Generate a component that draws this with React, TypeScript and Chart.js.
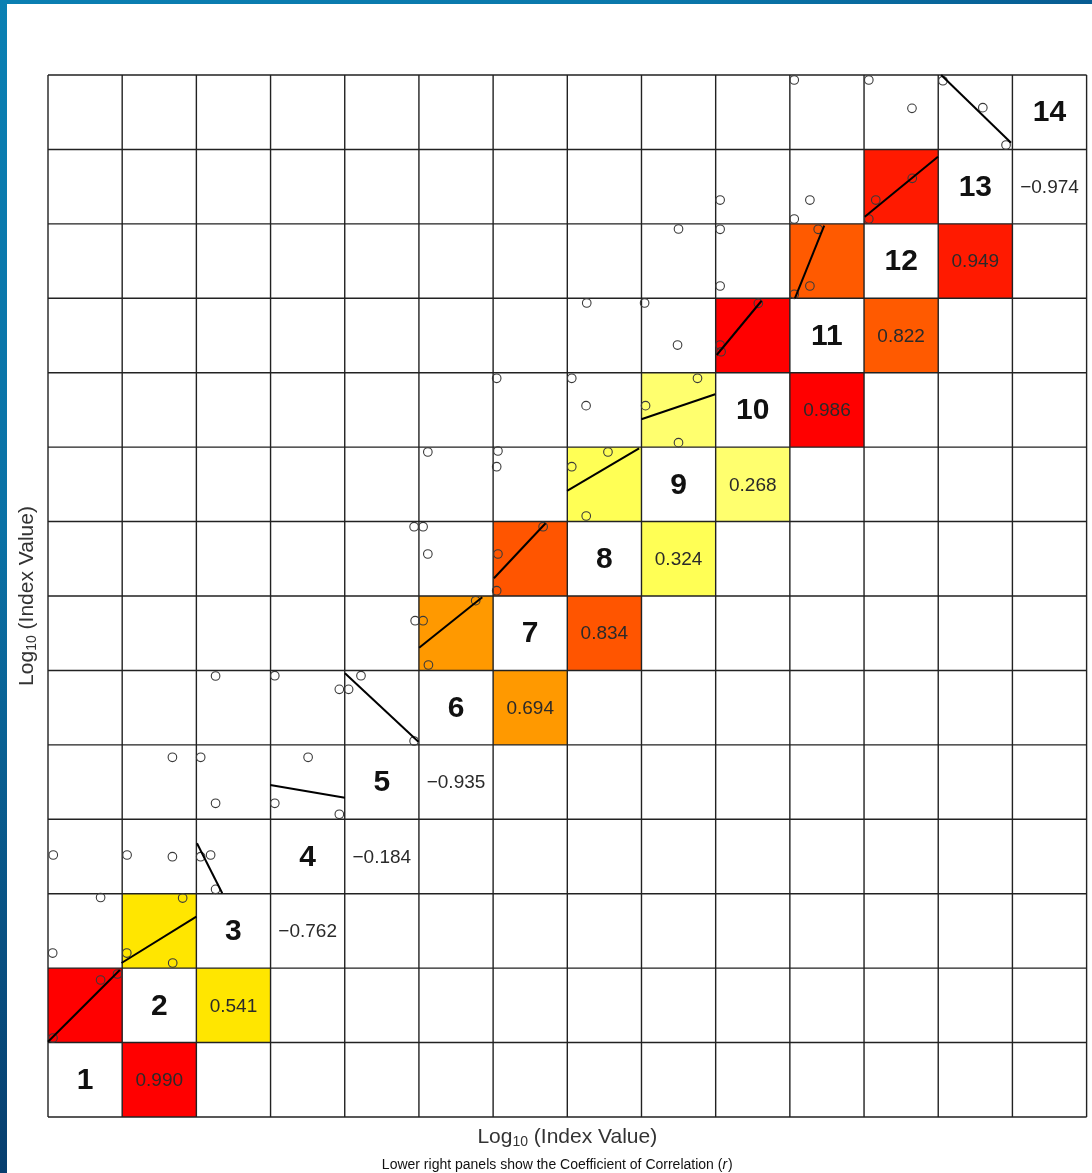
import React, { useEffect, useRef } from 'react';
import { Chart, registerables } from 'chart.js';

Chart.register(...registerables);

// Diagonal panel labels (variables 1..14)
const diagLabels = ['1', '2', '3', '4', '5', '6', '7', '8', '9', '10', '11', '12', '13', '14'];

// Correlation of variable i with variable i+1 (lower-right panels)
const corrValues = [0.990, 0.541, -0.762, -0.184, -0.935, 0.694, 0.834, 0.324, 0.268, 0.986, 0.822, 0.949, -0.974];
const corrColors: (string | null)[] = [
  '#FF0000', '#FFE600', null, null, null, '#FF9900', '#FF5500',
  '#FFFF55', '#FFFF6E', '#FF0000', '#FF5A00', '#FF1A00', null,
];

// Scatter points (panel-grid units: each panel is 1 unit wide / tall)
const pointX = [
  0.709, 0.937, 0.067,
  0.709, 0.063, 1.815, 1.062, 1.681,
  0.071, 1.066, 1.677, 2.058, 2.192, 2.259,
  1.677, 2.058, 2.259, 3.506, 3.057, 3.927,
  2.259, 3.057, 3.927, 4.052, 4.219, 4.935,
  4.949, 5.056, 5.128, 5.765,
  4.935, 5.056, 5.120, 6.674, 6.065, 6.048,
  5.120, 6.065, 6.048, 7.548, 7.060, 7.255,
  6.048, 7.060, 7.253, 8.055, 8.755, 8.499,
  7.262, 8.042, 8.486, 9.575, 9.060, 9.073,
  8.499, 9.060, 9.060, 10.382, 10.270, 10.059,
  9.060, 10.270, 10.059, 11.064, 11.158, 11.650,
  10.059, 11.064, 11.646, 12.063, 12.601, 12.914,
];
const pointY = [
  1.841, 1.921, 1.061,
  2.949, 2.203, 2.942, 2.203, 2.069,
  3.520, 3.520, 3.497, 3.497, 3.520, 3.059,
  4.833, 4.833, 4.215, 4.833, 4.215, 4.067,
  5.925, 5.929, 5.746, 5.746, 5.929, 5.052,
  6.668, 6.668, 6.073, 6.937,
  7.931, 7.931, 7.564, 7.931, 7.564, 7.071,
  8.935, 8.948, 8.737, 8.935, 8.737, 8.075,
  9.925, 9.925, 9.557, 9.557, 9.925, 9.060,
  10.937, 10.937, 10.372, 10.932, 10.372, 10.282,
  11.931, 11.927, 11.165, 11.927, 11.165, 11.053,
  12.320, 12.320, 12.065, 12.065, 12.320, 12.612,
  13.933, 13.933, 13.552, 13.923, 13.561, 13.059,
];

// Regression lines (start / end, panel-grid units)
const lineX1 = [0.000, 0.991, 2.008, 2.995, 4.003, 5.003, 6.011, 6.997, 7.998, 9.014, 10.068, 11.010, 12.040];
const lineY1 = [1.012, 2.069, 3.677, 4.461, 5.961, 6.305, 7.238, 8.411, 9.374, 10.238, 11.000, 12.096, 14.000];
const lineX2 = [0.968, 2.000, 2.349, 4.003, 4.993, 5.854, 6.707, 7.968, 8.993, 9.619, 10.463, 11.996, 12.981];
const lineY2 = [1.975, 2.691, 3.006, 4.290, 5.042, 6.982, 7.977, 8.982, 9.710, 10.967, 11.975, 12.902, 13.090];

const xTitleMain = 'Log';
const xTitleSub = '10';
const xTitleRest = ' (Index Value)';
const subTitle = 'Lower right panels show the Coefficient of Correlation (';
const subTitleVar = 'r';

const FONT = '"Liberation Sans", Arial, Helvetica, sans-serif';
const N = diagLabels.length;

function drawLogTitle(ctx: CanvasRenderingContext2D, cx: number, cy: number) {
  ctx.save();
  ctx.fillStyle = '#333';
  ctx.textBaseline = 'middle';
  ctx.textAlign = 'left';
  const big = `21px ${FONT}`;
  const small = `14px ${FONT}`;
  ctx.font = big;
  const w1 = ctx.measureText(xTitleMain).width;
  const w3 = ctx.measureText(xTitleRest).width;
  ctx.font = small;
  const w2 = ctx.measureText(xTitleSub).width;
  const total = w1 + w2 + w3;
  let x = cx - total / 2;
  ctx.font = big;
  ctx.fillText(xTitleMain, x, cy);
  x += w1;
  ctx.font = small;
  ctx.fillText(xTitleSub, x, cy + 5);
  x += w2;
  ctx.font = big;
  ctx.fillText(xTitleRest, x, cy);
  ctx.restore();
}

const panelPlugin = {
  id: 'panelPlugin',
  beforeDatasetsDraw(chart: any) {
    const { ctx, scales } = chart;
    const xs = scales.x;
    const ys = scales.y;
    ctx.save();
    // coloured panels
    for (let i = 0; i < corrValues.length; i++) {
      const c = corrColors[i];
      if (!c) continue;
      ctx.fillStyle = c;
      // scatter panel (col i, row i+1)
      let x0 = xs.getPixelForValue(i);
      let x1 = xs.getPixelForValue(i + 1);
      let y0 = ys.getPixelForValue(i + 2);
      let y1 = ys.getPixelForValue(i + 1);
      ctx.fillRect(x0, y0, x1 - x0, y1 - y0);
      // correlation panel (col i+1, row i)
      x0 = xs.getPixelForValue(i + 1);
      x1 = xs.getPixelForValue(i + 2);
      y0 = ys.getPixelForValue(i + 1);
      y1 = ys.getPixelForValue(i);
      ctx.fillRect(x0, y0, x1 - x0, y1 - y0);
    }
    // panel borders
    ctx.strokeStyle = '#222';
    ctx.lineWidth = 1.4;
    ctx.beginPath();
    for (let k = 0; k <= N; k++) {
      const px = xs.getPixelForValue(k);
      ctx.moveTo(px, ys.getPixelForValue(0));
      ctx.lineTo(px, ys.getPixelForValue(N));
      const py = ys.getPixelForValue(k);
      ctx.moveTo(xs.getPixelForValue(0), py);
      ctx.lineTo(xs.getPixelForValue(N), py);
    }
    ctx.stroke();
    ctx.restore();
  },
  afterDatasetsDraw(chart: any) {
    const { ctx, scales, chartArea } = chart;
    const xs = scales.x;
    const ys = scales.y;
    ctx.save();
    ctx.textAlign = 'center';
    ctx.textBaseline = 'middle';
    // diagonal labels
    ctx.font = `bold 30px ${FONT}`;
    ctx.fillStyle = '#111';
    for (let i = 0; i < N; i++) {
      ctx.fillText(diagLabels[i], xs.getPixelForValue(i + 0.5), ys.getPixelForValue(i + 0.5) + 1);
    }
    // correlation values
    ctx.font = `19px ${FONT}`;
    ctx.fillStyle = '#2a2a2a';
    for (let i = 0; i < corrValues.length; i++) {
      const v = corrValues[i];
      const s = (v < 0 ? '\u2212' : '') + Math.abs(v).toFixed(3);
      ctx.fillText(s, xs.getPixelForValue(i + 1.5), ys.getPixelForValue(i + 0.5) + 1);
    }
    ctx.restore();

    // axis titles
    const cx = (chartArea.left + chartArea.right) / 2;
    drawLogTitle(ctx, cx, chartArea.bottom + 20);
    ctx.save();
    ctx.translate(chartArea.left - 21, (chartArea.top + chartArea.bottom) / 2);
    ctx.rotate(-Math.PI / 2);
    drawLogTitle(ctx, 0, 0);
    ctx.restore();

    // subtitle
    ctx.save();
    ctx.fillStyle = '#111';
    ctx.textBaseline = 'middle';
    ctx.textAlign = 'left';
    const f1 = `14px ${FONT}`;
    const f2 = `italic 14px ${FONT}`;
    ctx.font = f1;
    const a = ctx.measureText(subTitle).width;
    const c = ctx.measureText(')').width;
    ctx.font = f2;
    const b = ctx.measureText(subTitleVar).width + 1;
    let x = cx - 10 - (a + b + c) / 2;
    const y = chartArea.bottom + 48;
    ctx.font = f1;
    ctx.fillText(subTitle, x, y);
    x += a;
    ctx.font = f2;
    ctx.fillText(subTitleVar, x, y);
    x += b;
    ctx.font = f1;
    ctx.fillText(')', x, y);
    ctx.restore();
  },
};

export default function App() {
  const canvasRef = useRef<HTMLCanvasElement | null>(null);

  useEffect(() => {
    const canvas = canvasRef.current;
    if (!canvas) return;
    const pts = pointX.map((x, i) => ({ x, y: pointY[i] }));
    const lineSets = lineX1.map((x1, i) => ({
      type: 'scatter' as const,
      data: [
        { x: x1, y: lineY1[i] },
        { x: lineX2[i], y: lineY2[i] },
      ],
      showLine: true,
      borderColor: '#000',
      borderWidth: 2,
      pointRadius: 0,
      clip: false as any,
    }));
    const chart = new Chart(canvas, {
      type: 'scatter',
      data: {
        datasets: [
          ...lineSets,
          {
            type: 'scatter',
            data: pts,
            showLine: false,
            pointStyle: 'circle',
            pointRadius: 4.3,
            pointBorderWidth: 1.1,
            borderColor: '#3a3a3a',
            backgroundColor: 'rgba(0,0,0,0)',
            clip: false as any,
          },
        ],
      },
      options: {
        responsive: false,
        animation: false,
        events: [],
        layout: { padding: { left: 48, top: 75, right: 2, bottom: 56 } },
        plugins: {
          legend: { display: false },
          tooltip: { enabled: false },
          title: { display: false },
        },
        scales: {
          x: { type: 'linear', min: 0, max: N, display: false },
          y: { type: 'linear', min: 0, max: N, display: false },
        },
      },
      plugins: [panelPlugin],
    });
    return () => chart.destroy();
  }, []);

  return (
    <div
      style={{
        position: 'absolute',
        left: 0,
        top: 0,
        width: 1092,
        height: 1173,
        background: '#ffffff',
        overflow: 'hidden',
      }}
    >
      <canvas
        ref={canvasRef}
        width={1092}
        height={1173}
        style={{ position: 'absolute', left: 0, top: 0, width: 1092, height: 1173 }}
      />
      <div
        style={{
          position: 'absolute',
          left: 0,
          top: 0,
          width: 1092,
          height: 4,
          background: 'linear-gradient(90deg, #0a7fb2 0%, #0a78ab 60%, #075c92 100%)',
        }}
      />
      <div
        style={{
          position: 'absolute',
          left: 0,
          top: 0,
          width: 7,
          height: 1173,
          background: 'linear-gradient(180deg, #0a80b3 0%, #0a71a5 45%, #073e6e 100%)',
        }}
      />
    </div>
  );
}
